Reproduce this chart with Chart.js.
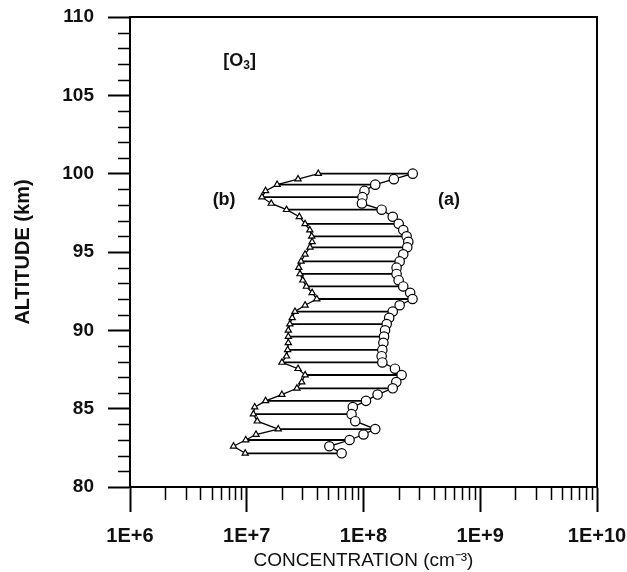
<!DOCTYPE html>
<html>
<head>
<meta charset="utf-8">
<script src="https://cdn.jsdelivr.net/npm/chart.js@4"></script>
<style>
  body { margin: 0; background: #fff; }
  canvas { display: block; }
</style>
</head>
<body>
<canvas id="chart" width="627" height="572"></canvas>
<script>
// altitude levels (km), top to bottom
const altitudes = [
    100, 99.65, 99.3, 98.9, 98.5, 98.1, 97.7, 97.25, 96.8, 96.4,
    96.0, 95.65, 95.3, 94.85, 94.4, 94.0, 93.6, 93.2, 92.8, 92.4,
    92.0, 91.6, 91.2, 90.8, 90.4, 90.0, 89.6, 89.2, 88.75, 88.35,
    87.95, 87.55, 87.15, 86.7, 86.3, 85.9, 85.5, 85.1, 84.65, 84.2,
    83.7, 83.35, 83.0, 82.6, 82.15
];

// (a) circles
const seriesA = [
    2.64e8, 1.82e8, 1.26e8, 1.02e8, 9.8e7, 9.7e7, 1.43e8, 1.78e8, 2.0e8, 2.19e8,
    2.34e8, 2.42e8, 2.37e8, 2.19e8, 2.04e8, 1.92e8, 1.92e8, 2.0e8, 2.19e8, 2.51e8,
    2.63e8, 2.04e8, 1.78e8, 1.66e8, 1.58e8, 1.53e8, 1.5e8, 1.48e8, 1.45e8, 1.43e8,
    1.45e8, 1.86e8, 2.12e8, 1.91e8, 1.78e8, 1.32e8, 1.05e8, 8.1e7, 7.9e7, 8.5e7,
    1.26e8, 1.0e8, 7.6e7, 5.1e7, 6.5e7
];

// (b) triangles
const seriesB = [
    4.1e7, 2.75e7, 1.82e7, 1.45e7, 1.35e7, 1.62e7, 2.19e7, 2.82e7, 3.16e7, 3.47e7,
    3.6e7, 3.63e7, 3.48e7, 3.16e7, 2.92e7, 2.79e7, 2.86e7, 3.02e7, 3.24e7, 3.63e7,
    3.98e7, 3.16e7, 2.59e7, 2.45e7, 2.34e7, 2.27e7, 2.27e7, 2.27e7, 2.24e7, 2.19e7,
    2.0e7, 2.75e7, 3.16e7, 2.96e7, 2.69e7, 2.0e7, 1.45e7, 1.17e7, 1.14e7, 1.23e7,
    1.86e7, 1.2e7, 9.8e6, 7.7e6, 9.7e6
];

const xTickLabels = ['1E+6', '1E+7', '1E+8', '1E+9', '1E+10'];
const yTickLabels = ['80', '85', '90', '95', '100', '105', '110'];

const FONT = 'Liberation Sans, Arial, sans-serif';

// horizontal rungs between the two profiles, every other level
const rungs = [];
altitudes.forEach((alt, i) => {
    if (i % 2 === 0) {
        rungs.push({ x: seriesB[i], y: alt }, { x: seriesA[i], y: alt }, { x: null, y: null });
    }
});

const isDecade = v => Math.abs(Math.log10(v) - Math.round(Math.log10(v))) < 1e-9;

// frame, minor ticks and in-plot labels
const extras = {
    id: 'extras',
    beforeDatasetsDraw(chart) {
        const { ctx, chartArea: a, scales: { x, y } } = chart;
        ctx.save();
        ctx.strokeStyle = '#000';
        ctx.lineWidth = 2;
        ctx.strokeRect(a.left, a.top, a.right - a.left, a.bottom - a.top);

        ctx.lineWidth = 1.5;
        ctx.beginPath();
        y.ticks.forEach(t => {
            if (t.value % 5 !== 0) {
                const py = Math.round(y.getPixelForValue(t.value)) + 0.5;
                ctx.moveTo(a.left - 12, py);
                ctx.lineTo(a.left, py);
            }
        });
        x.ticks.forEach(t => {
            if (!isDecade(t.value)) {
                const px = Math.round(x.getPixelForValue(t.value)) + 0.5;
                ctx.moveTo(px, a.bottom);
                ctx.lineTo(px, a.bottom + 13);
            }
        });
        ctx.stroke();

        ctx.fillStyle = '#111';
        ctx.textBaseline = 'middle';
        ctx.textAlign = 'center';
        ctx.font = 'bold 18px ' + FONT;
        ctx.fillText('(b)', x.getPixelForValue(6.4e6), y.getPixelForValue(98.3));
        ctx.fillText('(a)', x.getPixelForValue(5.4e8), y.getPixelForValue(98.3));

        // [O3] with subscript
        ctx.textAlign = 'left';
        let px = x.getPixelForValue(6.3e6);
        const py = y.getPixelForValue(107.2);
        ctx.fillText('[O', px, py);
        px += ctx.measureText('[O').width;
        ctx.font = 'bold 12px ' + FONT;
        ctx.fillText('3', px, py + 5);
        px += ctx.measureText('3').width;
        ctx.font = 'bold 18px ' + FONT;
        ctx.fillText(']', px, py);
        ctx.restore();
    }
};

new Chart(document.getElementById('chart'), {
    type: 'scatter',
    data: {
        datasets: [
            {
                label: '(a)',
                data: altitudes.map((alt, i) => ({ x: seriesA[i], y: alt })),
                showLine: true,
                borderColor: '#000',
                borderWidth: 1.3,
                pointStyle: 'circle',
                pointRadius: 4.7,
                pointBorderWidth: 1.2,
                pointBorderColor: '#000',
                pointBackgroundColor: '#fff',
                order: 1
            },
            {
                label: '(b)',
                data: altitudes.map((alt, i) => ({ x: seriesB[i], y: alt })),
                showLine: true,
                borderColor: '#000',
                borderWidth: 1.3,
                pointStyle: 'triangle',
                pointRadius: 3.6,
                pointBorderWidth: 1.2,
                pointBorderColor: '#000',
                pointBackgroundColor: '#fff',
                order: 2
            },
            {
                label: 'rungs',
                data: rungs,
                showLine: true,
                spanGaps: false,
                borderColor: '#000',
                borderWidth: 1.8,
                pointRadius: 0,
                order: 3
            }
        ]
    },
    options: {
        responsive: false,
        animation: false,
        layout: { padding: { left: 0, right: 30, top: 17, bottom: 0 } },
        plugins: {
            legend: { display: false },
            tooltip: { enabled: false }
        },
        scales: {
            x: {
                type: 'logarithmic',
                min: 1e6,
                max: 1e10,
                afterFit: s => {
                    s.height = 85;
                    s.paddingLeft = 0;
                    s.paddingRight = 0;
                },
                afterBuildTicks: s => {
                    const ticks = [];
                    for (let e = 6; e < 10; e++) {
                        for (let m = 1; m < 10; m++) ticks.push({ value: m * Math.pow(10, e) });
                    }
                    ticks.push({ value: 1e10 });
                    s.ticks = ticks;
                },
                ticks: {
                    autoSkip: false,
                    maxRotation: 0,
                    padding: 12,
                    color: '#111',
                    font: { family: FONT, size: 20, weight: 'bold' },
                    callback: v => isDecade(v) ? xTickLabels[Math.round(Math.log10(v)) - 6] : ''
                },
                grid: {
                    drawOnChartArea: false,
                    drawTicks: true,
                    tickLength: 25,
                    tickWidth: 2,
                    tickColor: c => (c.tick && isDecade(c.tick.value)) ? '#000' : 'rgba(0,0,0,0)'
                },
                border: { display: true, color: '#000', width: 2 },
                title: {
                    display: true,
                    text: 'CONCENTRATION (cm\u207B\u00B3)',
                    color: '#111',
                    font: { family: FONT, size: 19 },
                    padding: { top: 0, bottom: 0 }
                }
            },
            y: {
                min: 80,
                max: 110,
                afterFit: s => {
                    s.width = 130;
                    s.paddingTop = 0;
                    s.paddingBottom = 0;
                },
                ticks: {
                    stepSize: 1,
                    autoSkip: false,
                    padding: 14,
                    color: '#111',
                    font: { family: FONT, size: 19, weight: 'bold' },
                    callback: v => v % 5 === 0 ? yTickLabels[(v - 80) / 5] : ''
                },
                grid: {
                    drawOnChartArea: false,
                    drawTicks: true,
                    tickLength: 22,
                    tickWidth: 2,
                    tickColor: c => (c.tick && c.tick.value % 5 === 0) ? '#000' : 'rgba(0,0,0,0)'
                },
                border: { display: true, color: '#000', width: 2 },
                title: {
                    display: true,
                    text: 'ALTITUDE (km)',
                    color: '#111',
                    font: { family: FONT, size: 20, weight: 'bold' },
                    padding: { top: 11, bottom: 0 }
                }
            }
        }
    },
    plugins: [extras]
});
</script>
</body>
</html>
